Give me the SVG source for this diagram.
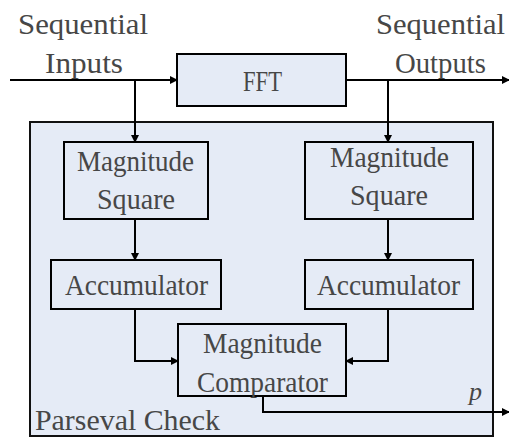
<svg xmlns="http://www.w3.org/2000/svg" width="509" height="437" viewBox="0 0 509 437">
<style>
.box{fill:#e5ebf6;stroke:#000;stroke-width:2}
.outer{fill:#e5ebf6;stroke:#111;stroke-width:2}
.t{font-family:"Liberation Serif","DejaVu Serif",serif;font-size:30px;fill:#474747}
.w{stroke:#000;stroke-width:2;fill:none}
</style>
<defs>
<marker id="a" viewBox="0 0 8 8" refX="7" refY="4" markerWidth="4" markerHeight="4" orient="auto" markerUnits="strokeWidth">
<path d="M0,0 L8,4 L0,8 z" fill="#000"/>
</marker>
</defs>
<rect width="509" height="437" fill="#fff"/>
<g id="parseval">
<rect class="outer" x="30" y="122" width="463" height="314"/>
<text class="t" x="35" y="430" textLength="185" lengthAdjust="spacingAndGlyphs">Parseval Check</text>
</g>
<g id="labels">
<text class="t" x="18" y="34" textLength="130" lengthAdjust="spacingAndGlyphs">Sequential</text>
<text class="t" x="45" y="73" textLength="78" lengthAdjust="spacingAndGlyphs">Inputs</text>
<text class="t" x="376" y="34" textLength="129" lengthAdjust="spacingAndGlyphs">Sequential</text>
<text class="t" x="395" y="73" textLength="91" lengthAdjust="spacingAndGlyphs">Outputs</text>
<text x="469" y="400" font-family="Liberation Serif,serif" font-style="italic" font-size="26" fill="#474747">p</text>
</g>
<g id="fft">
<rect class="box" x="177" y="54" width="169" height="52"/>
<text class="t" x="243" y="91" textLength="39" lengthAdjust="spacingAndGlyphs">FFT</text>
</g>
<g id="magsq-left">
<rect class="box" x="64" y="142" width="144" height="77"/>
<text class="t" x="77" y="171" textLength="117" lengthAdjust="spacingAndGlyphs">Magnitude</text>
<text class="t" x="97" y="209" textLength="78" lengthAdjust="spacingAndGlyphs">Square</text>
</g>
<g id="magsq-right">
<rect class="box" x="305" y="142" width="168" height="77"/>
<text class="t" x="330" y="167" textLength="119" lengthAdjust="spacingAndGlyphs">Magnitude</text>
<text class="t" x="350" y="205" textLength="78" lengthAdjust="spacingAndGlyphs">Square</text>
</g>
<g id="acc-left">
<rect class="box" x="51" y="260" width="170" height="49"/>
<text class="t" x="65" y="295" textLength="143" lengthAdjust="spacingAndGlyphs">Accumulator</text>
</g>
<g id="acc-right">
<rect class="box" x="305" y="260" width="168" height="49"/>
<text class="t" x="317" y="295" textLength="143" lengthAdjust="spacingAndGlyphs">Accumulator</text>
</g>
<g id="comparator">
<rect class="box" x="178" y="324" width="168" height="72"/>
<text class="t" x="203" y="353" textLength="119" lengthAdjust="spacingAndGlyphs">Magnitude</text>
<text class="t" x="197" y="392" textLength="131" lengthAdjust="spacingAndGlyphs">Comparator</text>
</g>
<g id="connectors">
<path class="w" d="M10,80 H177" marker-end="url(#a)"/>
<path class="w" d="M135,80 V142" marker-end="url(#a)"/>
<path class="w" d="M346,80 H509" marker-end="url(#a)"/>
<path class="w" d="M388,80 V142" marker-end="url(#a)"/>
<path class="w" d="M135,219 V260" marker-end="url(#a)"/>
<path class="w" d="M388,219 V260" marker-end="url(#a)"/>
<path class="w" d="M135,309 V361 H178" marker-end="url(#a)"/>
<path class="w" d="M388,309 V361 H346" marker-end="url(#a)"/>
<path class="w" d="M263,396 V412 H509" marker-end="url(#a)"/>
</g>
</svg>
